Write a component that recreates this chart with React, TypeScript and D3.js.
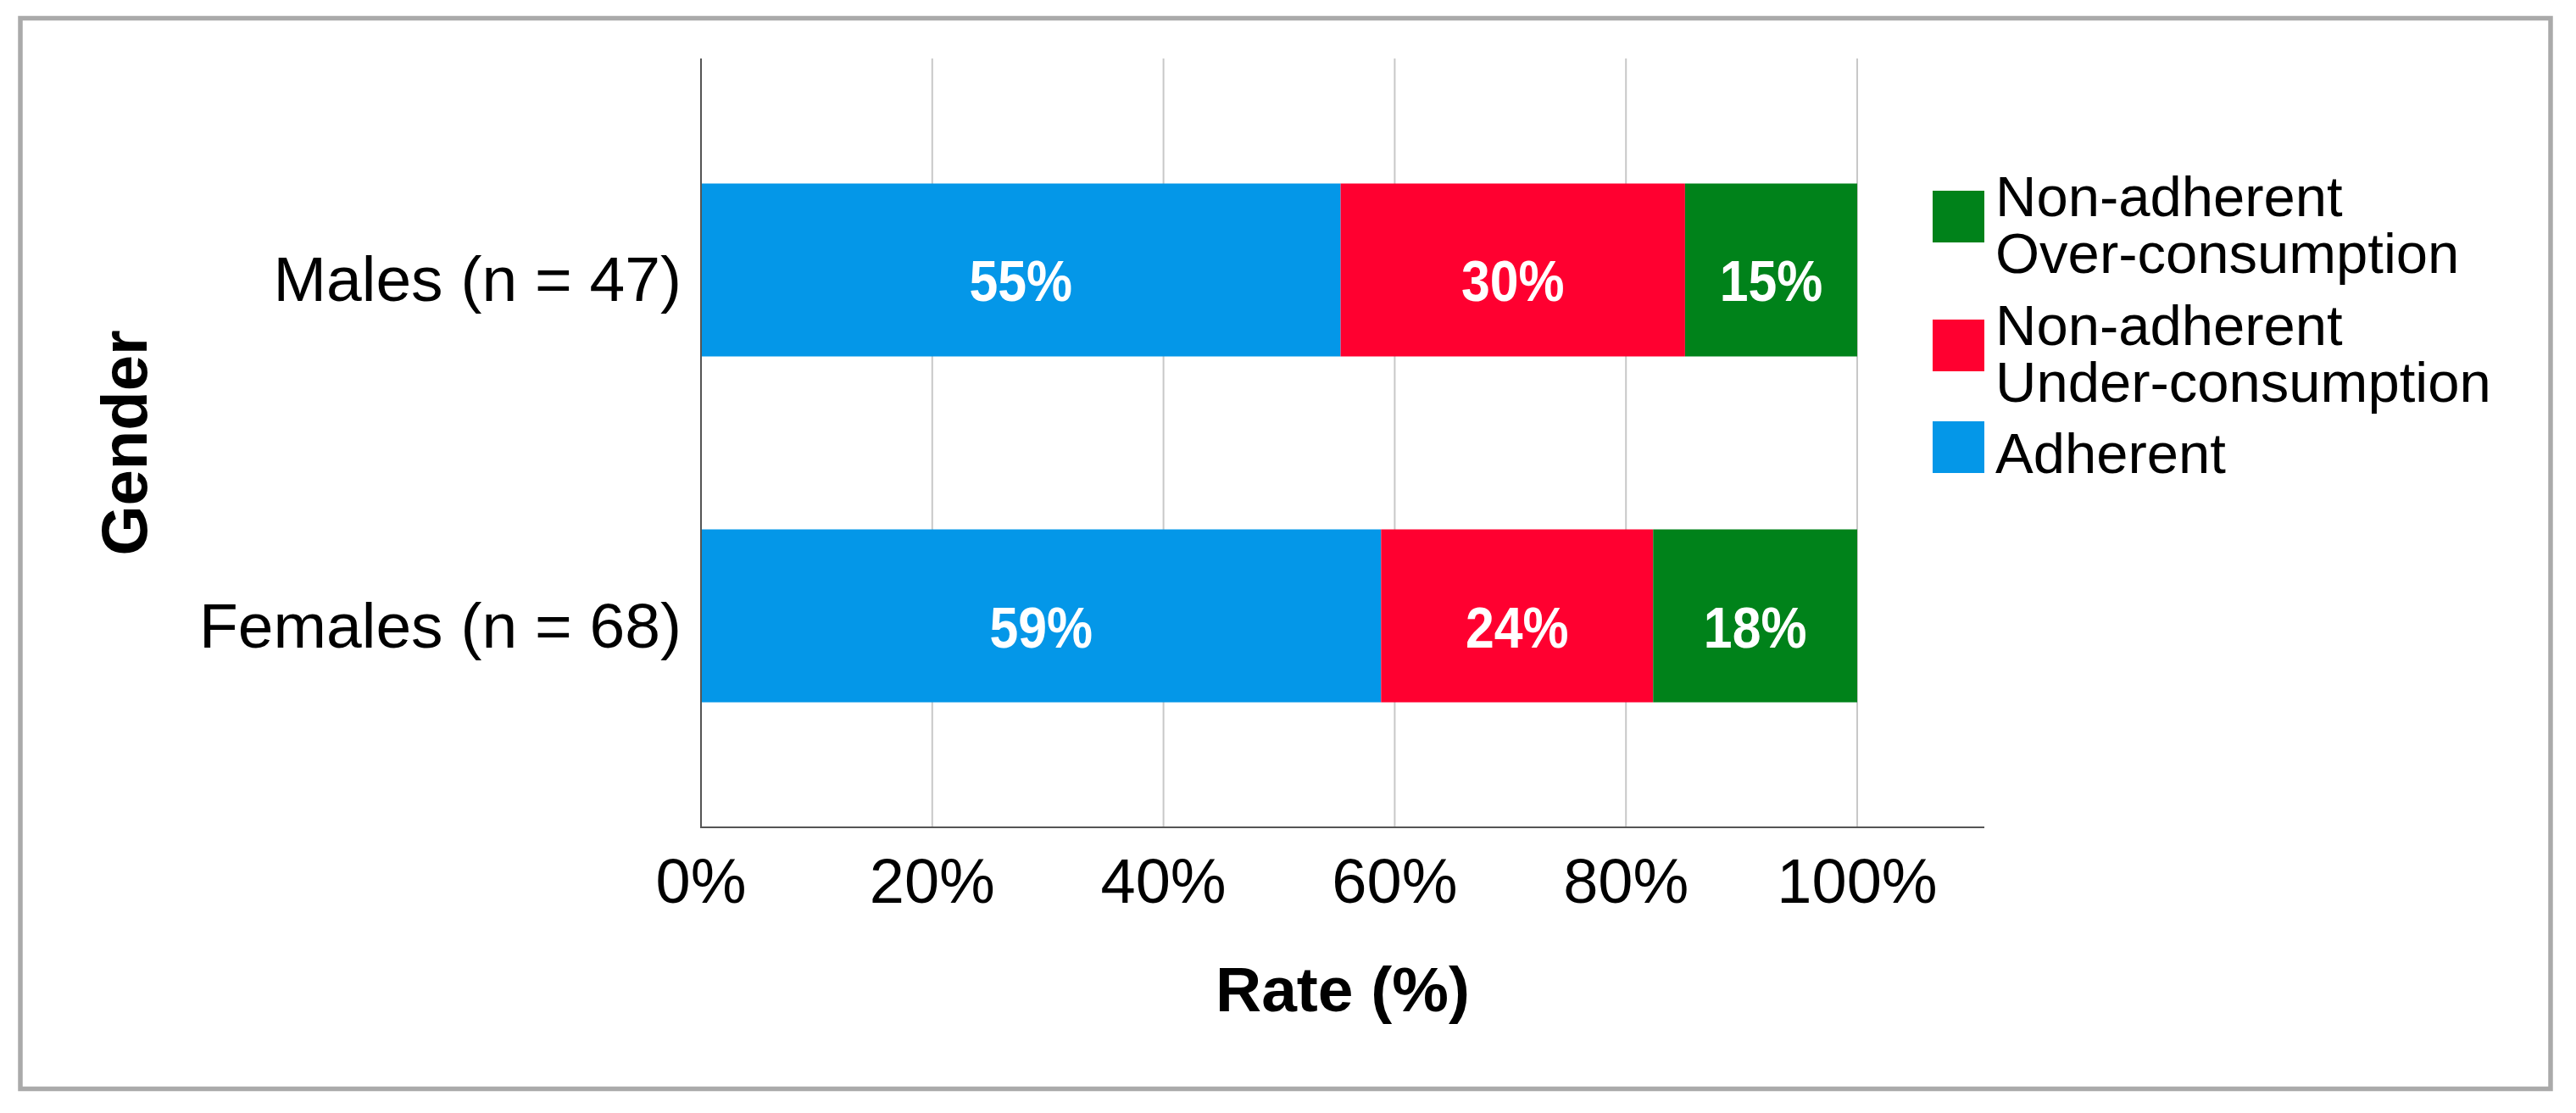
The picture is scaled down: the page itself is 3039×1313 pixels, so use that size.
import React from "react";
import * as d3 from "d3";

const categories = ["Males (n = 47)", "Females (n = 68)"];
const seriesKeys = ["adherent", "under", "over"];
const adherent = [55.32, 58.82];
const under = [29.79, 23.53];
const over = [14.89, 17.65];
const xTicks = [0, 20, 40, 60, 80, 100];
const seriesColors = ["#0497E8", "#FF0030", "#00821A"];
const legendItems = [
  { key: "over", lines: ["Non-adherent", "Over-consumption"] },
  { key: "under", lines: ["Non-adherent", "Under-consumption"] },
  { key: "adherent", lines: ["Adherent"] },
];

const W = 3039;
const H = 1313;
const FONT = "'Liberation Sans', Arial, Helvetica, sans-serif";

export default function App() {
  const plotLeft = 827;
  const plotRight = 2341;
  const plotTop = 69;
  const plotBottom = 976;

  const x = d3.scaleLinear().domain([0, 100]).range([plotLeft, 2191]);
  const y = d3
    .scaleBand<string>()
    .domain(categories)
    .range([plotTop, plotBottom])
    .paddingInner(0.5)
    .paddingOuter(0.3615);
  const color = d3.scaleOrdinal<string, string>().domain(seriesKeys).range(seriesColors);

  const rows = categories.map((c, i) => ({
    cat: c,
    adherent: adherent[i],
    under: under[i],
    over: over[i],
  }));
  const stacked = d3.stack<any>().keys(seriesKeys)(rows);

  const legendSwatchTop: Record<string, number> = { over: 225, under: 377, adherent: 497 };
  const legendBaseline: Record<string, number> = { over: 255, under: 407, adherent: 558 };

  return (
    <svg
      width={W}
      height={H}
      style={{ position: "absolute", left: 0, top: 0, background: "#fff" }}
      fontFamily={FONT}
    >
      <rect x={0} y={0} width={W} height={H} fill="#fff" />
      <rect x={24} y={21.5} width={2985} height={1263} fill="#fff" stroke="#aaaaaa" strokeWidth={5.5} />

      {/* gridlines */}
      {xTicks.filter((t) => t > 0).map((t) => (
        <line key={t} x1={x(t)} x2={x(t)} y1={plotTop} y2={plotBottom} stroke="#c8c8c8" strokeWidth={2} />
      ))}

      {/* bars */}
      {stacked.map((s) =>
        s.map((d, i) => {
          const x0 = x(d[0]);
          const x1 = x(d[1]);
          const yy = y(categories[i]) as number;
          const bw = y.bandwidth();
          const val = (d.data as any)[s.key] as number;
          return (
            <g key={s.key + i}>
              <rect x={x0} y={yy} width={x1 - x0} height={bw} fill={color(s.key)} />
              <text
                transform={`translate(${(x0 + x1) / 2},${yy + bw / 2 + 37}) scale(0.88,1)`}
                textAnchor="middle"
                fontSize={69}
                fontWeight="bold"
                fill="#ffffff"
              >
                {Math.round(val) + "%"}
              </text>
            </g>
          );
        })
      )}

      {/* axes */}
      <line x1={plotLeft} x2={plotLeft} y1={plotTop} y2={plotBottom} stroke="#555" strokeWidth={2} />
      <line x1={plotLeft - 1} x2={plotRight} y1={plotBottom} y2={plotBottom} stroke="#555" strokeWidth={2} />

      {/* category labels */}
      {categories.map((c) => (
        <text
          key={c}
          x={804}
          y={(y(c) as number) + y.bandwidth() / 2 + 37}
          textAnchor="end"
          fontSize={75}
          fill="#000"
        >
          {c}
        </text>
      ))}

      {/* tick labels */}
      {xTicks.map((t) => (
        <text key={t} x={x(t)} y={1065} textAnchor="middle" fontSize={74} fill="#000">
          {t + "%"}
        </text>
      ))}

      {/* axis titles */}
      <text x={(plotLeft + plotRight) / 2} y={1193} textAnchor="middle" fontSize={75} fontWeight="bold" fill="#000">
        Rate (%)
      </text>
      <text
        transform={`translate(173,${(plotTop + plotBottom) / 2}) rotate(-90)`}
        textAnchor="middle"
        fontSize={76}
        fontWeight="bold"
        fill="#000"
      >
        Gender
      </text>

      {/* legend */}
      {legendItems.map((it) => (
        <g key={it.key}>
          <rect x={2280} y={legendSwatchTop[it.key]} width={61} height={61} fill={color(it.key)} />
          <text x={2354} y={legendBaseline[it.key]} fontSize={67} fill="#000">
            {it.lines.map((ln, j) => (
              <tspan key={j} x={2354} dy={j === 0 ? 0 : 67}>
                {ln}
              </tspan>
            ))}
          </text>
        </g>
      ))}
    </svg>
  );
}
